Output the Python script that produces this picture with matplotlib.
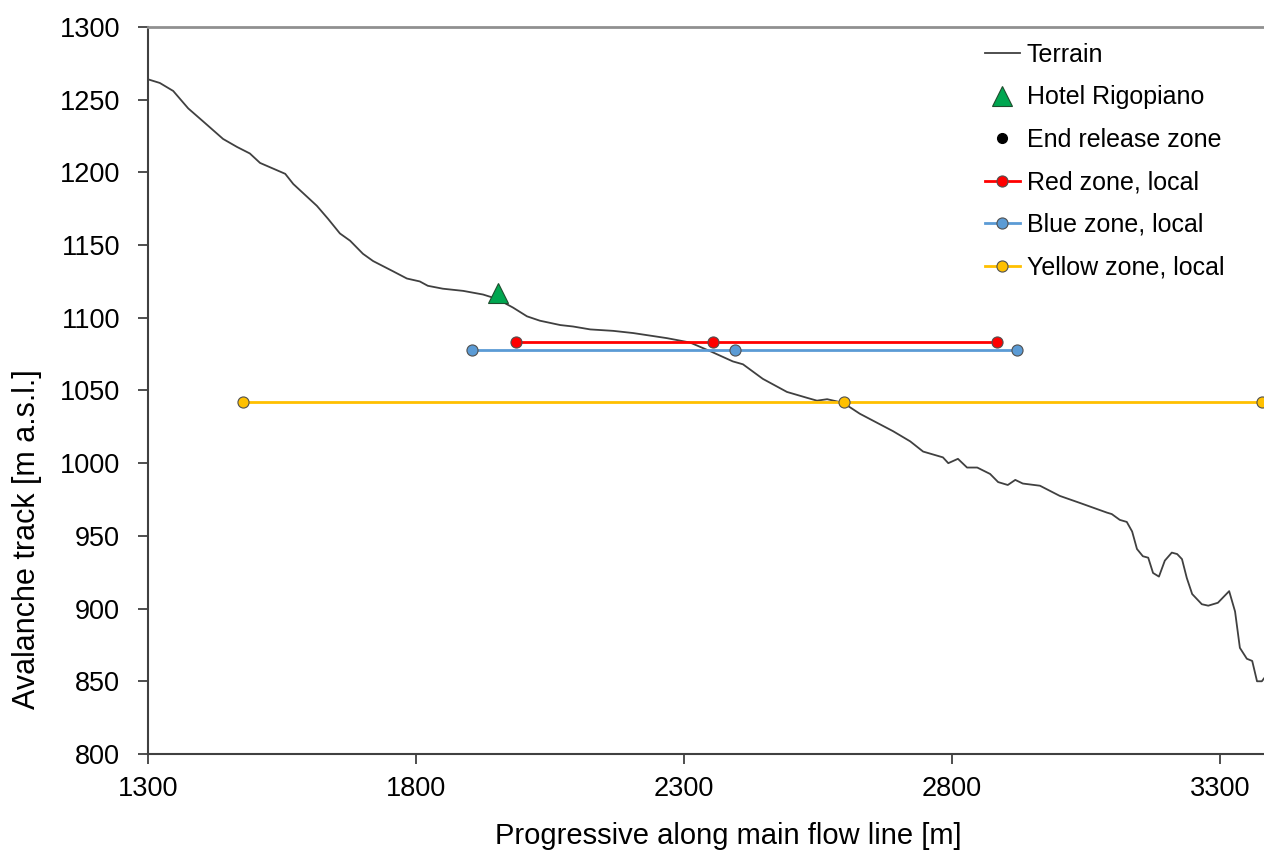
import matplotlib
matplotlib.use("Agg")
import matplotlib.pyplot as plt

plt.rcParams['font.family'] = ['Liberation Sans', 'DejaVu Sans']

# terrain profile along the main flow line
terrain_x = [1300, 1322, 1347, 1375, 1403, 1440, 1466, 1490, 1509, 1556, 1571, 1615,
             1636, 1658, 1677, 1701, 1720, 1757, 1783, 1807, 1822, 1850, 1888, 1925,
             1951, 1981, 2007, 2031, 2069, 2093, 2125, 2168, 2205, 2268, 2311, 2349,
             2391, 2410, 2447, 2492, 2529, 2548, 2567, 2597, 2628, 2690, 2722, 2746,
             2783, 2793, 2811, 2828, 2847, 2871, 2886, 2904, 2918, 2932, 2964, 3001,
             3039, 3089, 3098, 3113, 3126, 3136, 3145, 3156, 3166, 3175, 3186, 3197,
             3210, 3220, 3229, 3238, 3248, 3266, 3278, 3296, 3317, 3328, 3337, 3350,
             3360, 3369, 3378, 3382]
terrain_y = [1264, 1261.5, 1256, 1244, 1235, 1223, 1217.5, 1213, 1206.5, 1199, 1192, 1177,
             1168, 1158, 1153, 1144, 1139, 1132, 1127, 1125, 1122, 1120, 1118.5, 1116,
             1113, 1107, 1101, 1098, 1095, 1094, 1092, 1091, 1089.5, 1086, 1083, 1077,
             1070, 1068, 1058, 1049, 1045, 1043, 1044, 1041.5, 1034, 1022, 1015, 1008,
             1004, 1000, 1003, 997, 997, 992.6, 987, 985, 988.5, 986, 984.5, 977.5,
             972.6, 966, 965, 961, 959.6, 953, 941, 936, 935, 924.5, 922, 933,
             938.5, 937.5, 934, 921, 910, 903, 902, 904, 912, 898, 873, 865.5,
             864, 850, 850, 852]

hotel_x = [1953]
hotel_y = [1117]

red_x = [1987, 2354, 2884]
red_y = [1083, 1083, 1083]
blue_x = [1904, 2395, 2921]
blue_y = [1078, 1078, 1078]
yellow_x = [1477, 2598, 3378]
yellow_y = [1042, 1042, 1042]

fig = plt.figure(figsize=(12.64, 8.51), dpi=100)
ax = fig.add_axes([0.1171, 0.1140, 0.8829, 0.8543])

ax.plot(terrain_x, terrain_y, color='#404040', lw=1.3, label='Terrain', zorder=3)
ax.plot(hotel_x, hotel_y, ls='none', marker='^', ms=14, color='#00A650',
        mec='#1f4d2e', mew=0.8, label='Hotel Rigopiano', zorder=5)
ax.plot([], [], ls='none', marker='o', ms=7, color='black', label='End release zone')
ax.plot(red_x, red_y, color='#FF0000', lw=2, marker='o', ms=8, mfc='#FF0000',
        mec='#505050', mew=0.8, label='Red zone, local', zorder=4)
ax.plot(blue_x, blue_y, color='#5B9BD5', lw=2, marker='o', ms=8, mfc='#5B9BD5',
        mec='#505050', mew=0.8, label='Blue zone, local', zorder=4)
ax.plot(yellow_x, yellow_y, color='#FFC000', lw=2, marker='o', ms=8, mfc='#FFC000',
        mec='#505050', mew=0.8, label='Yellow zone, local', zorder=4)

ax.set_xlim(1300, 3382)
ax.set_ylim(800, 1300)
ax.set_xticks([1300, 1800, 2300, 2800, 3300])
ax.set_yticks(range(800, 1301, 50))
ax.tick_params(labelsize=19.5, direction='out', length=7, width=1.3, color='#404040')
ax.tick_params(axis='y', pad=13)
ax.tick_params(axis='x', pad=9)

for s in ['left', 'bottom']:
    ax.spines[s].set_color('#404040')
    ax.spines[s].set_linewidth(1.5)
ax.spines['top'].set_color('#909090')
ax.spines['top'].set_linewidth(2)
ax.spines['right'].set_visible(False)

ax.set_xlabel('Progressive along main flow line [m]', fontsize=21)
ax.set_ylabel('Avalanche track [m a.s.l.]', fontsize=22)
# label centres (axis is cropped on the right)
ax.xaxis.set_label_coords((728 - 148) / 1116, -(836 - 754) / 727)
ax.yaxis.set_label_coords(-(148 - 27) / 1116, (754 - 539) / 727)
ax.xaxis.label.set_va('center')
ax.yaxis.label.set_va('center')

ax.legend(loc='upper left', bbox_to_anchor=(0.741, 0.992), frameon=False, fontsize=18,
          handlelength=1.4, handletextpad=0.28, labelspacing=0.74, borderaxespad=0)

fig.savefig('out.png', dpi=100)
